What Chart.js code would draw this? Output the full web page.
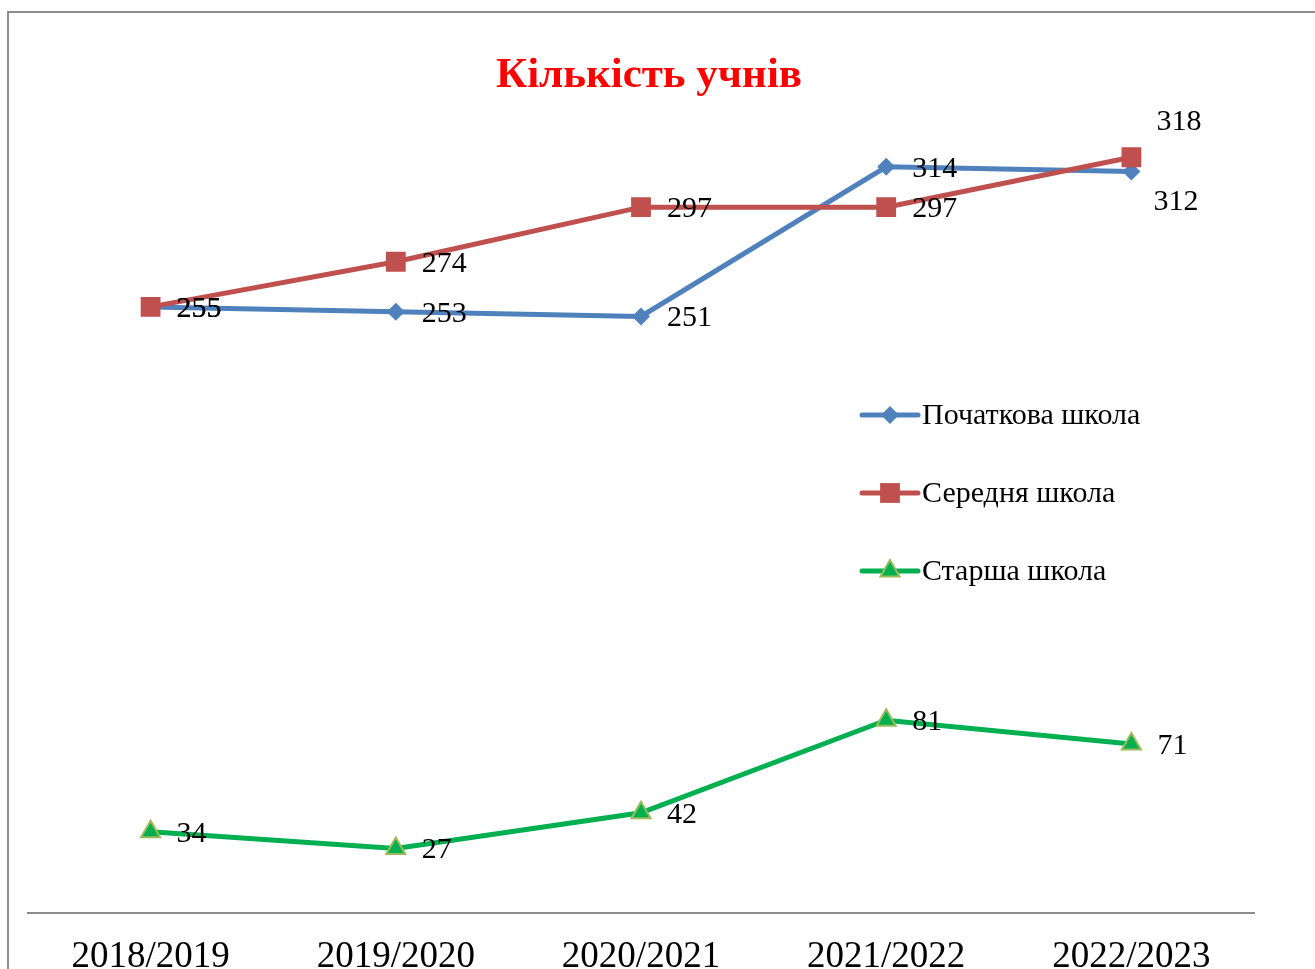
<!DOCTYPE html>
<html>
<head>
<meta charset="utf-8">
<script src="https://cdn.jsdelivr.net/npm/chart.js@4.4.0/dist/chart.umd.min.js"></script>
<style>
    html, body { margin: 0; padding: 0; overflow: hidden; background: #fff; }
    body { width: 1315px; height: 969px; position: relative; }
    .frame { position: absolute; left: 7px; top: 11px; width: 1400px; height: 1100px;
             border-left: 2px solid #8c8c8c; border-top: 2px solid #8c8c8c; }
    .wrap { position: absolute; left: 0; top: 0; width: 1315px; height: 1013px; }
</style>
</head>
<body>
<div class="frame"></div>
<div class="wrap"><canvas id="chartUchni"></canvas></div>
<script>
    const years = ['2018/2019', '2019/2020', '2020/2021', '2021/2022', '2022/2023'];
    const pochatkova = [255, 253, 251, 314, 312];
    const serednya = [255, 274, 297, 297, 318];
    const starsha = [34, 27, 42, 81, 71];
    const seriesNames = ['Початкова школа', 'Середня школа', 'Старша школа'];
    const chartTitle = 'Кількість учнів';

    const SERIF = '"Liberation Serif", "Times New Roman", serif';

    // where each value label sits relative to its point (default: to the right)
    const labelShift = {
        '0-4': { dx: 22, dy: 31 },
        '1-4': { dx: 25, dy: -35 }
    };

    const titlePlugin = {
        id: 'titleText',
        afterDraw(chart) {
            const ctx = chart.ctx;
            ctx.save();
            ctx.font = 'bold 43px ' + SERIF;
            ctx.fillStyle = '#ff0000';
            ctx.textAlign = 'center';
            ctx.textBaseline = 'middle';
            ctx.fillText(chartTitle, 649, 76);
            ctx.restore();
        }
    };

    const dataLabels = {
        id: 'dataLabels',
        afterDatasetsDraw(chart) {
            const ctx = chart.ctx;
            ctx.save();
            ctx.font = '30px ' + SERIF;
            ctx.fillStyle = '#000';
            ctx.textAlign = 'left';
            ctx.textBaseline = 'middle';
            chart.data.datasets.forEach((ds, i) => {
                chart.getDatasetMeta(i).data.forEach((pt, j) => {
                    const s = labelShift[i + '-' + j] || { dx: 26, dy: 2 };
                    ctx.fillText(String(ds.data[j]), pt.x + s.dx, pt.y + s.dy);
                });
            });
            ctx.restore();
        }
    };

    function marker(ctx, style, x, y, r, fill, stroke, bw) {
        ctx.beginPath();
        if (style === 'rectRot') {
            ctx.moveTo(x - r, y); ctx.lineTo(x, y - r); ctx.lineTo(x + r, y); ctx.lineTo(x, y + r);
        } else if (style === 'rect') {
            const s = Math.SQRT1_2 * r;
            ctx.rect(x - s, y - s, 2 * s, 2 * s);
        } else {
            ctx.moveTo(x, y - r);
            ctx.lineTo(x + r * 0.866, y + r / 2);
            ctx.lineTo(x - r * 0.866, y + r / 2);
        }
        ctx.closePath();
        ctx.fillStyle = fill;
        ctx.fill();
        if (bw) { ctx.lineWidth = bw; ctx.strokeStyle = stroke; ctx.stroke(); }
    }

    const sideLegend = {
        id: 'sideLegend',
        afterDraw(chart) {
            const ctx = chart.ctx;
            const x0 = 862, x1 = 918, rows = [415, 493, 571];
            ctx.save();
            chart.data.datasets.forEach((ds, i) => {
                const y = rows[i];
                ctx.beginPath();
                ctx.moveTo(x0, y); ctx.lineTo(x1, y);
                ctx.lineWidth = 5;
                ctx.lineCap = 'round';
                ctx.strokeStyle = ds.borderColor;
                ctx.stroke();
                marker(ctx, ds.pointStyle, (x0 + x1) / 2, y, ds.pointRadius, ds.pointBackgroundColor, ds.pointBorderColor, ds.pointBorderWidth);
                ctx.font = '30px ' + SERIF;
                ctx.fillStyle = '#000';
                ctx.textAlign = 'left';
                ctx.textBaseline = 'middle';
                ctx.fillText(ds.label, x1 + 4, y + 1);
            });
            ctx.restore();
        }
    };

    new Chart(document.getElementById('chartUchni'), {
        type: 'line',
        data: {
            labels: years,
            datasets: [{
                label: seriesNames[0],
                data: pochatkova,
                borderColor: '#4f81bd',
                borderWidth: 5,
                pointStyle: 'rectRot',
                pointRadius: 9,
                pointBackgroundColor: '#4f81bd',
                pointBorderColor: '#4f81bd',
                pointBorderWidth: 0,
                order: 1
            }, {
                label: seriesNames[1],
                data: serednya,
                borderColor: '#c0504d',
                borderWidth: 5,
                pointStyle: 'rect',
                pointRadius: 14,
                pointBackgroundColor: '#c0504d',
                pointBorderColor: '#c0504d',
                pointBorderWidth: 0,
                order: 0
            }, {
                label: seriesNames[2],
                data: starsha,
                borderColor: '#00b050',
                borderWidth: 5,
                pointStyle: 'triangle',
                pointRadius: 11,
                pointBackgroundColor: '#00b050',
                pointBorderColor: '#9bbb59',
                pointBorderWidth: 2,
                order: 2
            }]
        },
        options: {
            responsive: true,
            maintainAspectRatio: false,
            animation: false,
            layout: { padding: { left: 28, right: 61, top: 105, bottom: 12 } },
            plugins: {
                legend: { display: false },
                tooltip: { enabled: false },
                title: { display: false }
            },
            scales: {
                x: {
                    offset: true,
                    grid: { display: false, drawTicks: false },
                    border: { display: true, color: '#8c8c8c', width: 2 },
                    ticks: {
                        color: '#000',
                        padding: 22,
                        maxRotation: 0,
                        autoSkip: false,
                        font: { family: SERIF, size: 37 }
                    }
                },
                y: {
                    display: false,
                    min: 0,
                    max: 340
                }
            }
        },
        plugins: [dataLabels, sideLegend, titlePlugin]
    });
</script>
</body>
</html>
